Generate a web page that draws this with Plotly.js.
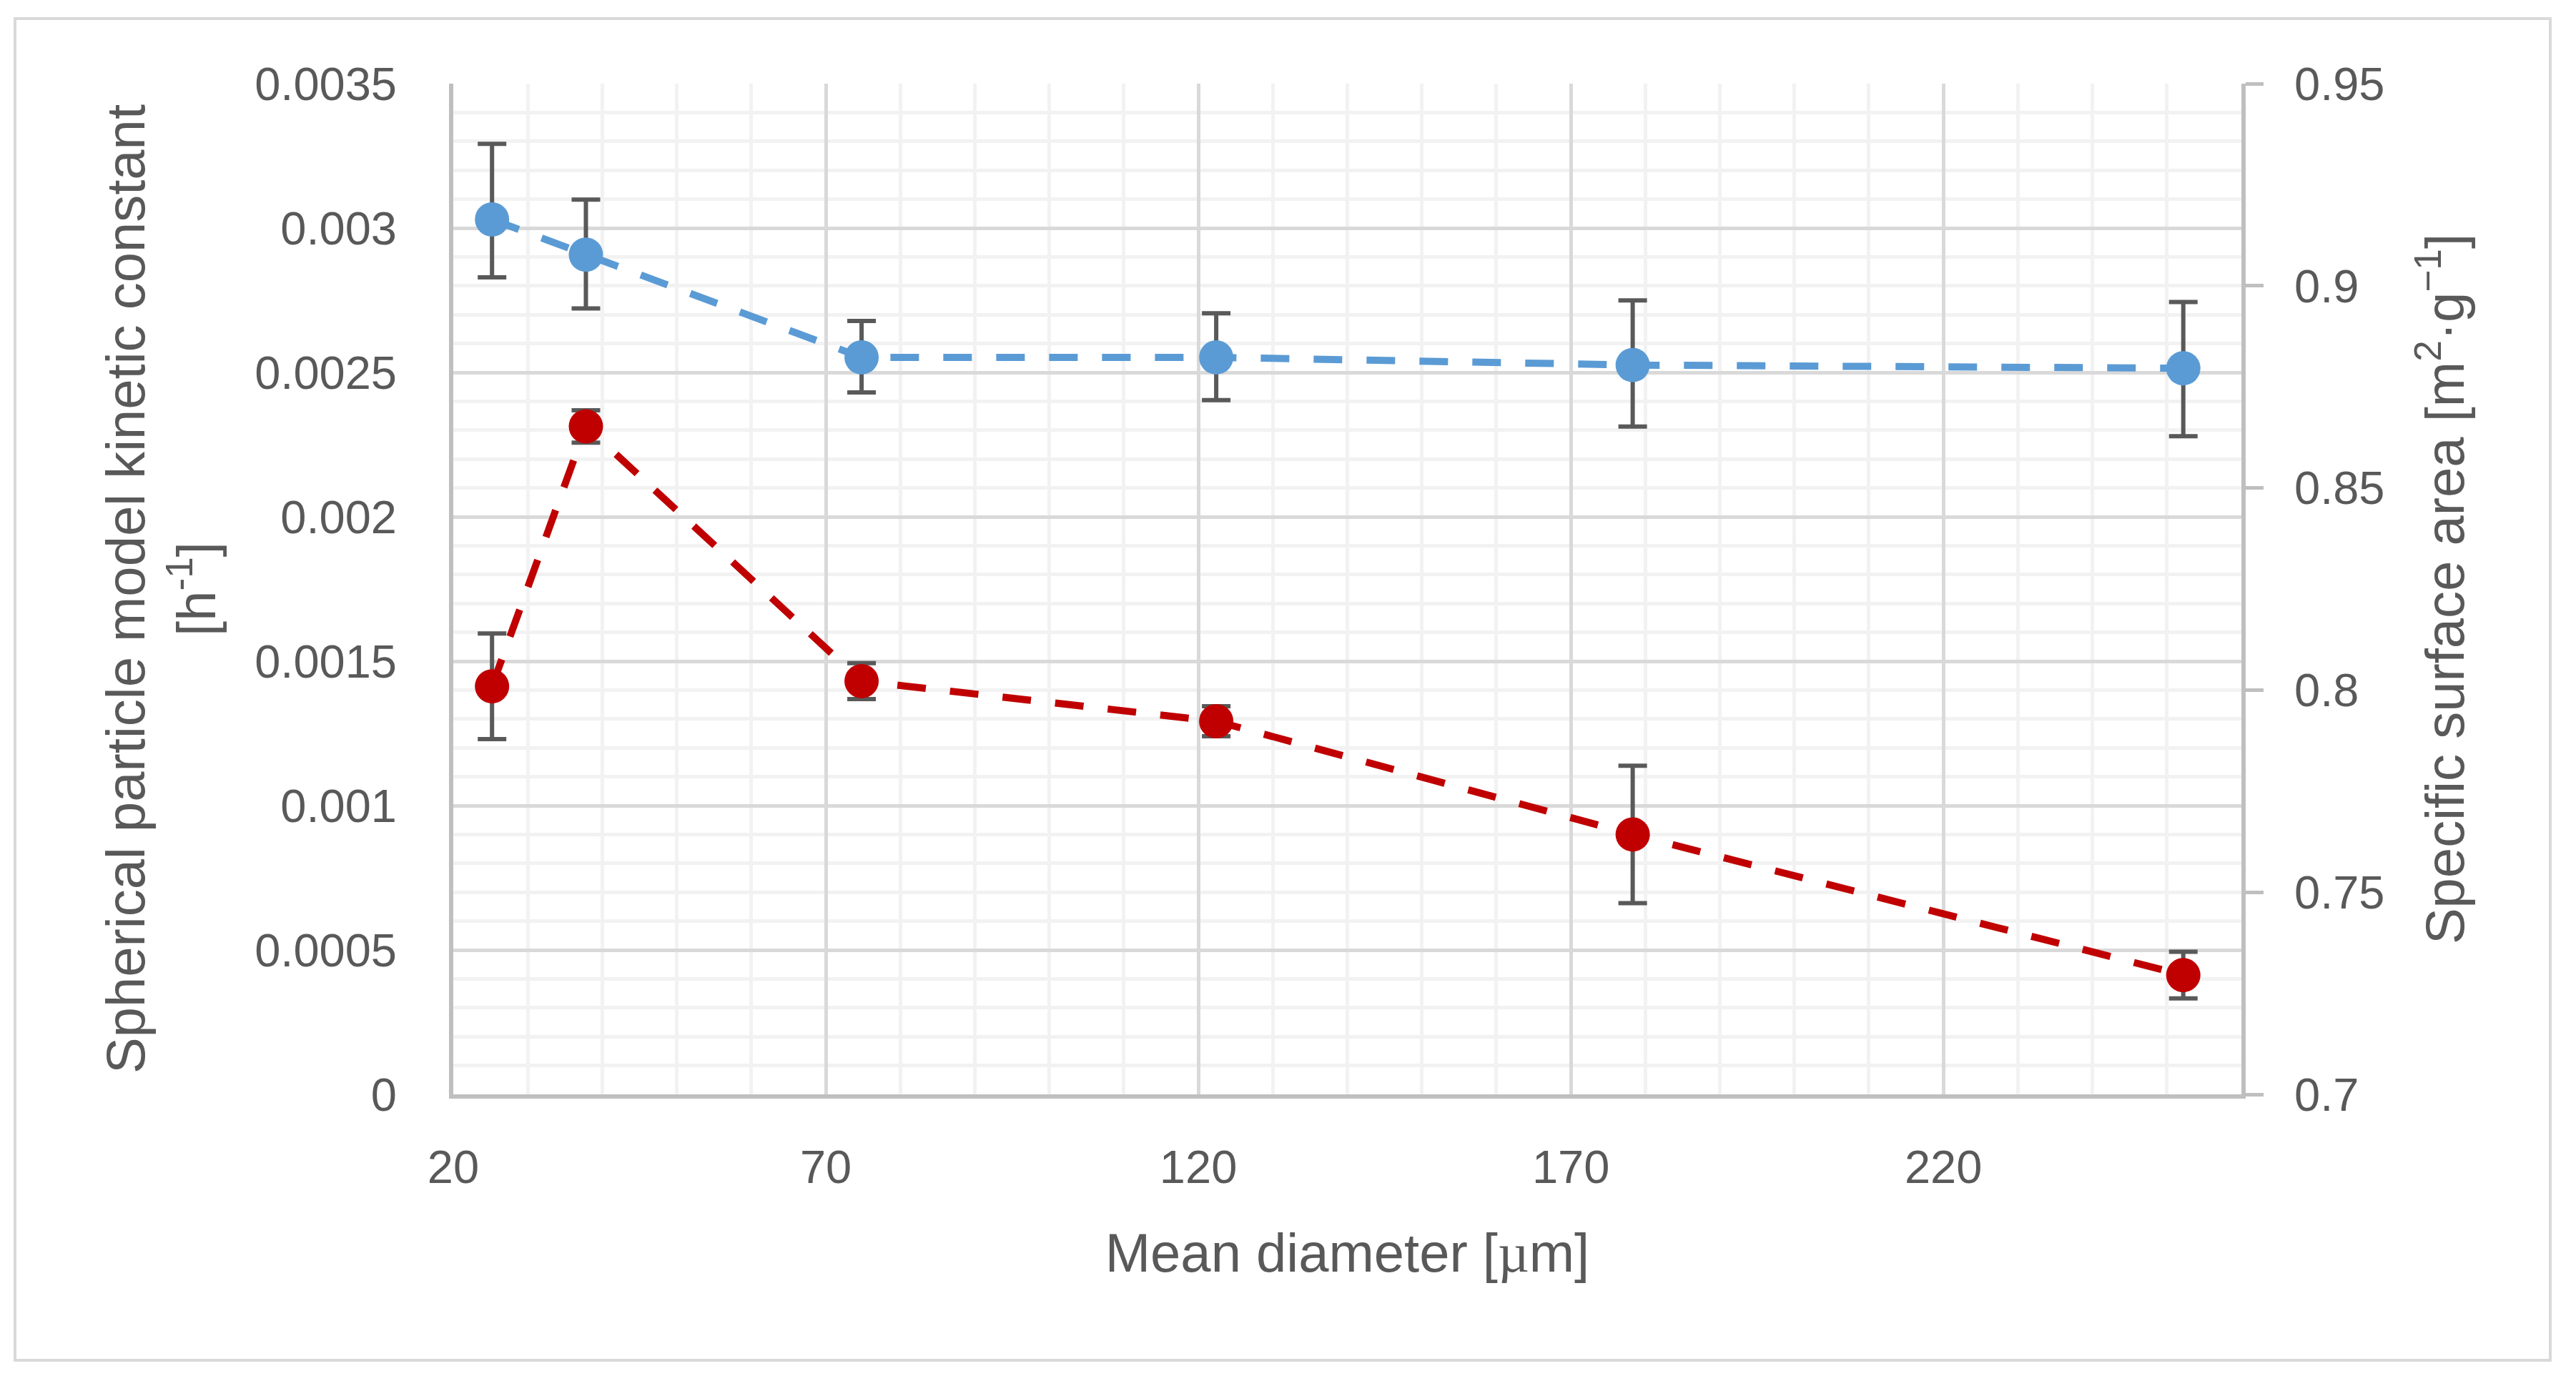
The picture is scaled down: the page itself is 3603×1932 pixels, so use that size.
<!DOCTYPE html>
<html>
<head>
<meta charset="utf-8">
<script src="https://cdn.plot.ly/plotly-3.0.1.min.js"></script>
<style>
  html, body { margin: 0; padding: 0; background: #ffffff; }
  #chart { width: 3603px; height: 1932px; }
</style>
</head>
<body>
<div id="chart"></div>
<script>
// ---- data ----
const meanDiameter = [25.2, 37.8, 74.8, 122.4, 178.3, 252.2];

const kineticConstant = [0.001413, 0.002313, 0.001431, 0.001292, 0.000900, 0.000413];
const kineticError    = [0.000183, 0.000056, 0.000062, 0.000052, 0.000238, 0.000081];

const surfaceArea       = [0.9164, 0.9077, 0.8823, 0.8823, 0.8804, 0.8796];
const surfaceErrorPlus  = [0.0187, 0.0136, 0.0090, 0.0109, 0.0160, 0.0164];
const surfaceErrorMinus = [0.0143, 0.0133, 0.0087, 0.0106, 0.0152, 0.0168];

const xTickValues = [20, 70, 120, 170, 220];
const xTickLabels = ['20', '70', '120', '170', '220'];
const leftTickValues = [0, 0.0005, 0.001, 0.0015, 0.002, 0.0025, 0.003, 0.0035];
const leftTickLabels = ['0', '0.0005', '0.001', '0.0015', '0.002', '0.0025', '0.003', '0.0035'];
const rightTickValues = [0.7, 0.75, 0.8, 0.85, 0.9, 0.95];
const rightTickLabels = ['0.7', '0.75', '0.8', '0.85', '0.9', '0.95'];

const xTitle = 'Mean diameter [<span style="font-family:\'Liberation Serif\'">µ</span>m]';
const leftTitle = 'Spherical particle model kinetic constant<br>[h<sup>-1</sup>]';
const rightTitle = 'Specific surface area [m<sup>2</sup>·g<sup>−1</sup>]';

// ---- styling ----
const FONT = 'Liberation Sans, Arial, sans-serif';
const TEXT = '#595959';
const BLUE = '#5b9bd5';
const RED = '#c00000';
const ERR = '#595959';

const W = 3603, H = 1932;
const M = { l: 634, r: 468, t: 117, b: 401 };
const pw = W - M.l - M.r, ph = H - M.t - M.b;
const px2x = v => (v - M.l) / pw;
const py2y = v => (H - M.b - v) / ph;

const traces = [
  {
    x: meanDiameter, y: surfaceArea, yaxis: 'y2',
    type: 'scatter', mode: 'lines+markers',
    line: { color: BLUE, width: 10, dash: '40px,34px' },
    marker: { color: BLUE, size: 48 },
    error_y: { type: 'data', symmetric: false, array: surfaceErrorPlus, arrayminus: surfaceErrorMinus,
               color: ERR, thickness: 6, width: 20 },
    showlegend: false, hoverinfo: 'x+y'
  },
  {
    x: meanDiameter, y: kineticConstant, yaxis: 'y',
    type: 'scatter', mode: 'lines+markers',
    line: { color: RED, width: 10, dash: '40px,34px' },
    marker: { color: RED, size: 48 },
    error_y: { type: 'data', array: kineticError, color: ERR, thickness: 6, width: 20 },
    showlegend: false, hoverinfo: 'x+y'
  }
];

const layout = {
  width: W, height: H,
  margin: M,
  paper_bgcolor: '#ffffff',
  plot_bgcolor: '#ffffff',
  font: { family: FONT, color: TEXT, size: 65 },
  showlegend: false,
  xaxis: {
    range: [20, 260],
    tickmode: 'array', tickvals: xTickValues, ticktext: xTickLabels,
    ticks: '', ticklabelstandoff: 40,
    showline: true, linecolor: '#bfbfbf', linewidth: 6,
    showgrid: true, gridcolor: '#d9d9d9', gridwidth: 5,
    minor: { tick0: 20, dtick: 10, showgrid: true, gridcolor: '#f2f2f2', gridwidth: 5, ticks: '' },
    zeroline: false,
    tickfont: { family: FONT, color: TEXT, size: 65 },
    title: { text: xTitle, font: { family: FONT, color: TEXT, size: 76 }, standoff: 60 }
  },
  yaxis: {
    range: [0, 0.0035],
    tickmode: 'array', tickvals: leftTickValues, ticktext: leftTickLabels,
    ticks: '', ticklabelstandoff: 60,
    showline: true, linecolor: '#bfbfbf', linewidth: 6,
    showgrid: true, gridcolor: '#d9d9d9', gridwidth: 5,
    minor: { tick0: 0, dtick: 0.0001, showgrid: true, gridcolor: '#f2f2f2', gridwidth: 5, ticks: '' },
    zeroline: false,
    tickfont: { family: FONT, color: TEXT, size: 65 },
    title: { text: leftTitle, font: { family: FONT, color: TEXT, size: 76 }, standoff: 32 }
  },
  yaxis2: {
    overlaying: 'y', side: 'right',
    range: [0.7, 0.95],
    tickmode: 'array', tickvals: rightTickValues, ticktext: rightTickLabels,
    ticks: 'outside', ticklen: 25, tickwidth: 5, tickcolor: '#bfbfbf',
    ticklabelstandoff: 30,
    showline: true, linecolor: '#bfbfbf', linewidth: 6,
    showgrid: false, zeroline: false,
    tickfont: { family: FONT, color: TEXT, size: 65 },
    title: { text: rightTitle, font: { family: FONT, color: TEXT, size: 76 }, standoff: 60 }
  },
  shapes: [
    { type: 'rect', xref: 'paper', yref: 'paper',
      x0: px2x(21), x1: px2x(3567), y0: py2y(1903), y1: py2y(26),
      line: { color: '#d9d9d9', width: 4 }, fillcolor: 'rgba(0,0,0,0)', layer: 'below' }
  ]
};

Plotly.newPlot('chart', traces, layout, { staticPlot: true, displayModeBar: false });
</script>
</body>
</html>
